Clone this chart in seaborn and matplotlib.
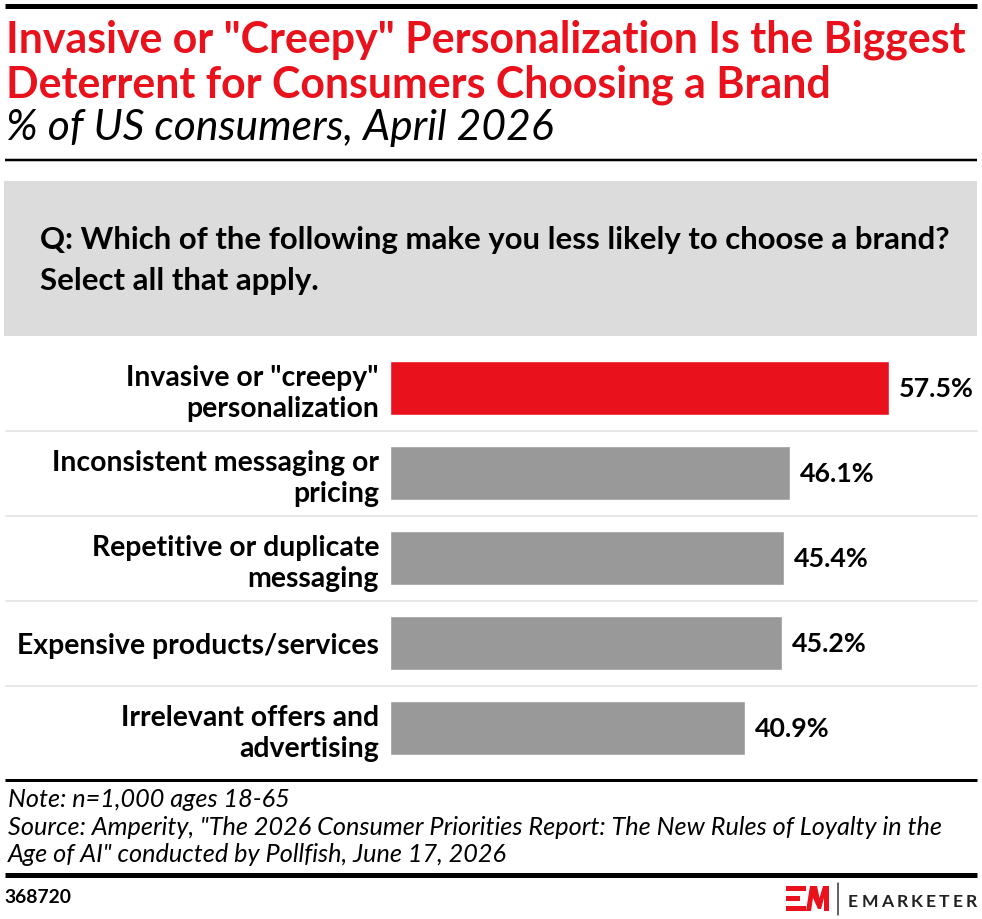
import matplotlib
matplotlib.use("Agg")
import matplotlib.pyplot as plt
import seaborn as sns
import pandas as pd
from matplotlib import font_manager
from matplotlib.patches import Rectangle, Polygon
from matplotlib.lines import Line2D
from matplotlib.transforms import blended_transform_factory

# ---------------- data ----------------
categories = [
    'Invasive or "creepy"\npersonalization',
    'Inconsistent messaging or\npricing',
    'Repetitive or duplicate\nmessaging',
    'Expensive products/services',
    'Irrelevant offers and\nadvertising',
]
values = [57.5, 46.1, 45.4, 45.2, 40.9]
bar_colors = ["#e9111c", "#999999", "#999999", "#999999", "#999999"]
value_labels = ["57.5%", "46.1%", "45.4%", "45.2%", "40.9%"]

title_lines = [
    'Invasive or "Creepy" Personalization Is the Biggest',
    'Deterrent for Consumers Choosing a Brand',
]
subtitle = "% of US consumers, April 2026"
question_lines = [
    "Q: Which of the following make you less likely to choose a brand?",
    "Select all that apply.",
]
note_line = "Note: n=1,000 ages 18-65"
source_lines = [
    'Source: Amperity, "The 2026 Consumer Priorities Report: The New Rules of Loyalty in the',
    'Age of AI" conducted by Pollfish, June 17, 2026',
]
chart_id = "368720"
brand = "EMARKETER"

# ---------------- setup ----------------
W, H = 982, 920
RED = "#e9111c"
sns.set_theme(style="white")
available = {f.name for f in font_manager.fontManager.ttflist}


def pick(*names):
    for n in names:
        if n in available:
            return n
    return "DejaVu Sans"


FONT = pick("Lato", "Roboto", "Open Sans")
plt.rcParams["font.family"] = [FONT, "DejaVu Sans"]

fig = plt.figure(figsize=(W / 100, H / 100), dpi=100)
fig.patch.set_facecolor("white")
renderer = fig.canvas.get_renderer()


def fx(x):
    return x / W


def fy(y):
    return 1 - y / H


def fit_size(s, width_px, **kw):
    t = fig.text(0, 0, s, fontsize=20, **kw)
    w = t.get_window_extent(renderer).width
    t.remove()
    return 20 * width_px / w


def hline(x0, x1, y, lw_px, color="black"):
    fig.add_artist(Line2D([fx(x0), fx(x1)], [fy(y), fy(y)], lw=lw_px * 0.72,
                          color=color, solid_capstyle="butt"))


# ---------------- header ----------------
hline(5, 977, 6.5, 5)
ts = fit_size(title_lines[0], 962, fontweight="bold")
fig.text(fx(6), fy(53), title_lines[0], fontsize=ts, fontweight="bold",
         color=RED, va="baseline")
fig.text(fx(6), fy(98), title_lines[1], fontsize=ts, fontweight="bold",
         color=RED, va="baseline")
ss = fit_size(subtitle, 547, fontstyle="italic")
fig.text(fx(6), fy(140), subtitle, fontsize=ss, fontstyle="italic",
         color="black", va="baseline")
hline(5, 977, 161, 2.5)

# question box
fig.add_artist(Rectangle((fx(4), fy(337)), fx(977) - fx(4), (337 - 182) / H,
                         transform=fig.transFigure, color="#dcdcdc", lw=0))
qs = fit_size(question_lines[0], 908, fontweight="bold")
fig.text(fx(40), fy(249), question_lines[0], fontsize=qs, fontweight="bold",
         color="black", va="baseline")
fig.text(fx(40), fy(290), question_lines[1], fontsize=qs, fontweight="bold",
         color="black", va="baseline")

# ---------------- bars ----------------
px_per_unit = (889 - 390) / 57.5
ax_top, ax_bot = 346.5, 771.5
ax = fig.add_axes([fx(390), fy(ax_bot), (977 - 390) / W, (ax_bot - ax_top) / H])
df = pd.DataFrame({"category": categories, "value": values})
sns.barplot(data=df, x="value", y="category", hue="category",
            palette=bar_colors, legend=False, orient="h", width=0.635,
            saturation=1, ax=ax)
ax.set_xlim(0, (977 - 390) / px_per_unit)
ax.set_ylim(4.5, -0.5)
for sp in ax.spines.values():
    sp.set_visible(False)
ax.set_xticks([])
ax.set_xlabel("")
ax.set_ylabel("")
ax.set_facecolor("none")

ls = fit_size("Expensive products/services", 363, fontweight="bold")
ax.tick_params(axis="y", length=0, pad=11 * 0.72, labelsize=ls)
for lab in ax.get_yticklabels():
    lab.set_fontweight("bold")
    lab.set_color("black")
    lab.set_linespacing(1.22)

vs = fit_size("57.5%", 75, fontweight="bold")
for cont, lab in zip(ax.containers, value_labels):
    ax.bar_label(cont, labels=[lab], padding=10 * 0.72, fontsize=vs,
                 fontweight="bold", color="black")

trans = blended_transform_factory(fig.transFigure, ax.transData)
for yv in [0.5, 1.5, 2.5, 3.5]:
    ax.plot([fx(6), fx(977)], [yv, yv], transform=trans, clip_on=False,
            color="#e8e8e8", lw=2 * 0.72, zorder=0)

# ---------------- footer ----------------
hline(5, 977, 781, 3)
ns = fit_size(source_lines[0], 932, fontstyle="italic")
fig.text(fx(8), fy(807), note_line, fontsize=ns, fontstyle="italic",
         color="black", va="baseline")
fig.text(fx(8), fy(835), source_lines[0], fontsize=ns, fontstyle="italic",
         color="black", va="baseline")
fig.text(fx(8), fy(862), source_lines[1], fontsize=ns, fontstyle="italic",
         color="black", va="baseline")
hline(5, 977, 875.5, 5)

ids = fit_size(chart_id, 67, fontweight="bold")
fig.text(fx(4), fy(903), chart_id, fontsize=ids, fontweight="bold",
         color="black", va="baseline")

# logo mark
def pts(seq):
    return [(fx(x), fy(y)) for x, y in seq]

for (x0, x1, y0, y1) in [(786, 806, 887, 892), (786, 800, 897, 902), (786, 806, 907, 912)]:
    fig.add_artist(Polygon(pts([(x0, y0), (x1, y0), (x1, y1), (x0, y1)]),
                           closed=True, transform=fig.transFigure, color=RED, lw=0))
fig.add_artist(Polygon(pts([(806, 912), (810, 887), (817, 887), (819.5, 899),
                            (823, 887), (829, 887), (829, 912), (824, 912),
                            (824, 899), (821, 910), (818, 910), (813, 899),
                            (811, 912)]),
                       closed=True, transform=fig.transFigure, color=RED, lw=0))
fig.add_artist(Line2D([fx(838), fx(838)], [fy(884), fy(916)], lw=1.5 * 0.72,
                      color="#333333"))

# EMARKETER letter-spaced
bs = 17.5 * 0.72
widths = []
for ch in brand:
    t = fig.text(0, 0, ch, fontsize=bs, fontweight="bold")
    widths.append(t.get_window_extent(renderer).width)
    t.remove()
gap = (977 - 848 - sum(widths)) / (len(brand) - 1)
x = 848
for ch, w in zip(brand, widths):
    fig.text(fx(x), fy(907), ch, fontsize=bs, fontweight="bold",
             color="#222222", va="baseline")
    x += w + gap

fig.savefig("out.png", dpi=100, facecolor="white")
